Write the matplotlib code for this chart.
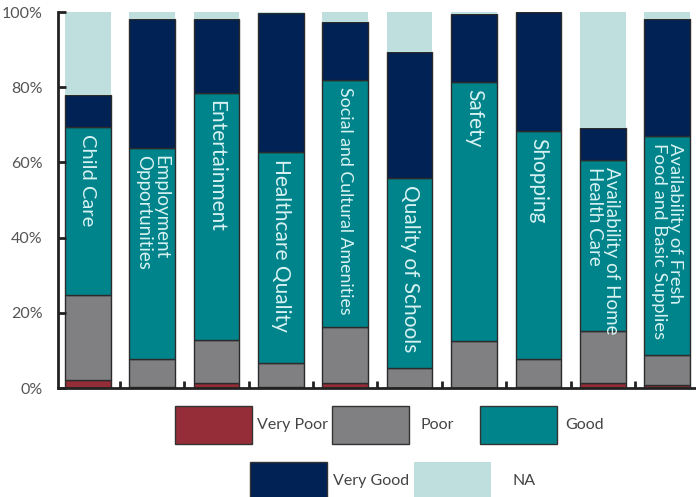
import matplotlib
matplotlib.use("Agg")
import matplotlib.pyplot as plt
from matplotlib.patches import Rectangle
from matplotlib.transforms import ScaledTranslation
import numpy as np

plt.rcParams['font.family'] = ['Lato', 'DejaVu Sans']
plt.rcParams['font.weight'] = 'normal'

categories = ["Child Care", "Employment\nOpportunities", "Entertainment",
              "Healthcare Quality", "Social and Cultural Amenities",
              "Quality of Schools", "Safety", "Shopping",
              "Availability of Home\nHealth Care",
              "Availability of Fresh\nFood and Basic Supplies"]
very_poor = [2.0, 0.3, 1.4, 0.3, 1.3, 0.0, 0.0, 0.3, 1.3, 0.8]
poor = [22.7, 7.5, 11.4, 6.4, 15.0, 5.3, 12.6, 7.4, 13.9, 8.0]
good = [44.7, 56.0, 65.7, 56.1, 65.6, 50.6, 68.8, 60.7, 45.4, 58.2]
very_good = [8.5, 34.4, 19.7, 37.0, 15.5, 33.4, 18.2, 31.6, 8.6, 31.1]
na = [22.1, 1.8, 1.8, 0.2, 2.6, 10.7, 0.4, 0.0, 30.8, 1.9]
series_names = ["Very Poor", "Poor", "Good", "Very Good", "NA"]
label_sizes = [14.5, 13.5, 15, 15, 12.8, 15, 15, 15, 13.5, 13.3]

colors = ["#952d38", "#808083", "#00848b", "#002254", "#bfdfdf"]
edges = ["#2b2b2b", "#2b2b2b", "#2b2b2b", "#2b2b2b", "none"]

fig = plt.figure(figsize=(6.96, 4.97), dpi=100)
ax = fig.add_axes([58/696, 1 - 388/497, 1 - 58/696, (388 - 12)/497])

x = np.arange(len(categories))
bottom = np.zeros(len(categories))
for vals, c, ec in zip([very_poor, poor, good, very_good, na], colors, edges):
    ax.bar(x, vals, width=0.71, bottom=bottom, color=c, edgecolor=ec, linewidth=1.0)
    bottom += np.array(vals)

good_top = np.array(very_poor) + np.array(poor) + np.array(good)
for i, name in enumerate(categories):
    t = ax.text(x[i], good_top[i], name, rotation=-90, ha='center', va='top',
                color="#d8f2f2", fontsize=label_sizes[i], multialignment='left',
                linespacing=1.0)
    t.set_transform(ax.transData + ScaledTranslation(0, -5/72, fig.dpi_scale_trans))

ax.set_xlim(-0.465, 9.45)
ax.set_ylim(0, 100)
ax.set_yticks([0, 20, 40, 60, 80, 100])
ax.set_yticklabels(["0%", "20%", "40%", "60%", "80%", "100%"], fontsize=11.5, color="#555555")
for lab in ax.get_yticklabels():
    lab.set_transform(lab.get_transform() + ScaledTranslation(0, -4/72, fig.dpi_scale_trans))
ax.tick_params(axis='y', direction='in', length=6, width=2, color="#222222", pad=11)
ax.set_xticks(x[:-1] + 0.5)
ax.set_xticklabels([])
ax.tick_params(axis='x', direction='in', length=5, width=2, color="#222222")
for s in ["top", "right"]:
    ax.spines[s].set_visible(False)
for s in ["left", "bottom"]:
    ax.spines[s].set_linewidth(2)
    ax.spines[s].set_color("#222222")

# legend boxes drawn in figure pixels
rows = [[(175, 257), (332, 420), (480, 565)], [(250, 333), (414, 513)]]
row_y = [406, 462]
k = 0
for r, row in enumerate(rows):
    for bx, tx in row:
        ec = "#333333" if k < 4 else "none"
        fig.patches.append(Rectangle((bx/696, 1 - (row_y[r] + 38)/497), 77/696, 38/497,
                                     transform=fig.transFigure, facecolor=colors[k],
                                     edgecolor=ec, linewidth=1.0))
        fig.text(tx/696, 1 - (row_y[r] + 19)/497, series_names[k], ha='left', va='center',
                 fontsize=11.5, color="#444444")
        k += 1

fig.savefig("out.png", dpi=100)
